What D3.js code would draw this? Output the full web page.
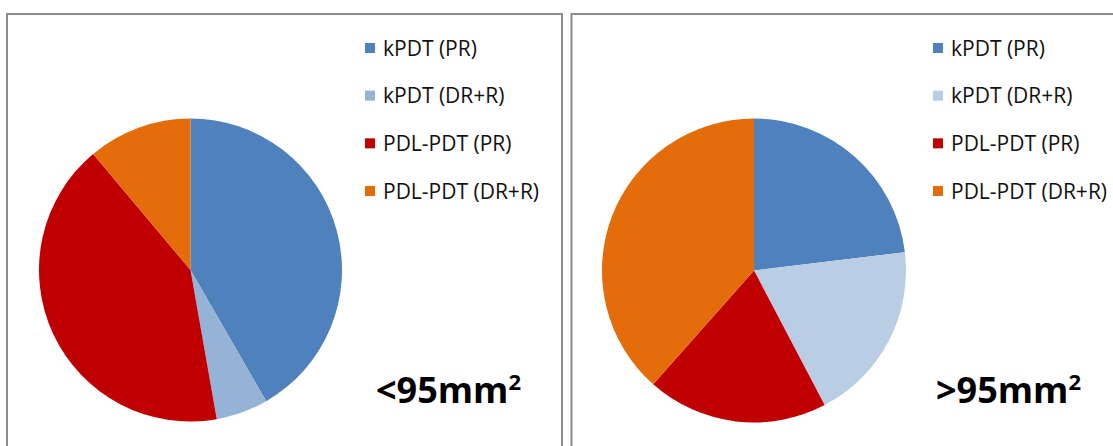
<!DOCTYPE html>
<html>
<head>
<meta charset="utf-8">
<script src="https://cdn.jsdelivr.net/npm/d3@7"></script>
<style>
  html, body { margin: 0; padding: 0; background: #fff; }
  svg { display: block; }
</style>
</head>
<body>
<svg id="chart" width="1113" height="446"></svg>
<script>
const categories = ["kPDT (PR)", "kPDT (DR+R)", "PDL-PDT (PR)", "PDL-PDT (DR+R)"];
const smallValues = [15, 2, 15, 4];   // <95mm²
const largeValues = [6, 5, 5, 10];    // >95mm²
const smallColors = ["#4F81BD", "#95B3D7", "#C00000", "#E46C0A"];
const largeColors = ["#4F81BD", "#B9CDE5", "#C00000", "#E46C0A"];
const panelTitles = ["<95mm", ">95mm"];

const svg = d3.select("#chart");
const font = "'Open Sans', sans-serif";

const panels = [
  { x: 7, w: 555, cx: 190.5, cy: 270, r: 151.5, values: smallValues, colors: smallColors,
    legendX: 365, titleX: 376, title: panelTitles[0] },
  { x: 571.5, w: 600, cx: 754, cy: 270.5, r: 152, values: largeValues, colors: largeColors,
    legendX: 933, titleX: 936, title: panelTitles[1] }
];

const pie = d3.pie().sort(null).value(d => d);

panels.forEach(p => {
  const g = svg.append("g");
  g.append("rect")
    .attr("x", p.x).attr("y", 14)
    .attr("width", p.w).attr("height", 460)
    .attr("fill", "none").attr("stroke", "#8c8c8c").attr("stroke-width", 2);

  const arc = d3.arc().innerRadius(0).outerRadius(p.r);
  g.append("g").attr("transform", `translate(${p.cx},${p.cy})`)
    .selectAll("path")
    .data(pie(p.values))
    .join("path")
    .attr("d", arc)
    .attr("fill", (d, i) => p.colors[i]);

  const rowY = d3.scalePoint().domain(categories).range([48, 191]);
  const lg = g.append("g");
  categories.forEach((c, i) => {
    const y = rowY(c);
    lg.append("rect")
      .attr("x", p.legendX).attr("y", y - 5)
      .attr("width", 10).attr("height", 10)
      .attr("fill", p.colors[i]);
    lg.append("text")
      .attr("x", p.legendX + 18).attr("y", y)
      .attr("dy", "0.36em")
      .attr("font-family", font)
      .attr("font-size", 21)
      .attr("fill", "#111")
      .text(c);
  });

  const t = g.append("text")
    .attr("x", p.titleX).attr("y", 403)
    .attr("font-family", font)
    .attr("font-size", 36)
    .attr("font-weight", "bold")
    .attr("fill", "#000")
    .text(p.title);
  t.append("tspan")
    .attr("font-size", 22)
    .attr("dy", -13)
    .text("2");
});
</script>
</body>
</html>
